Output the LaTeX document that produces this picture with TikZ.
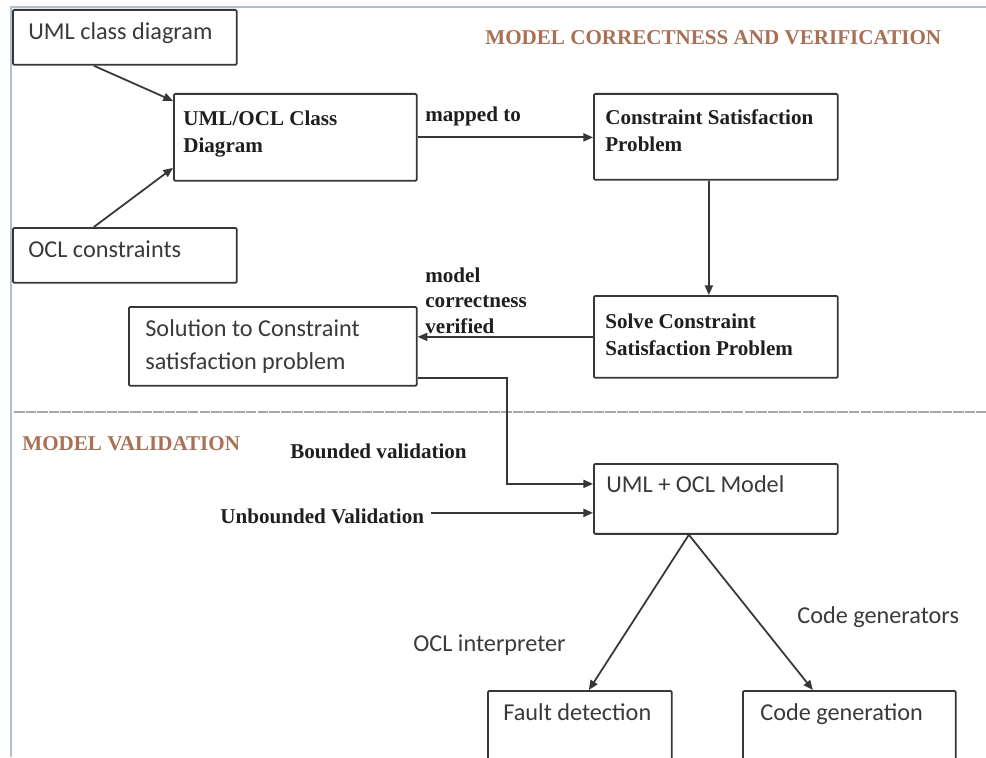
\documentclass[tikz,border=0pt]{standalone}
\usepackage{fontspec}
\setmainfont{Liberation Serif}
\newfontfamily\carlfont{Carlito}
\usetikzlibrary{arrows.meta}
\definecolor{framec}{RGB}{176,192,210}
\definecolor{brownc}{RGB}{168,112,84}
\definecolor{linec}{RGB}{55,55,55}
\definecolor{stext}{RGB}{58,58,58}
\tikzset{
  box/.style={draw=linec, line width=1pt, rounded corners=0.8pt, anchor=north west, inner sep=0pt},
  stxt/.style={anchor=base west, inner sep=0pt, font=\fontsize{12}{15.3}\selectfont\bfseries, text=black!88, align=left},
  ctxt/.style={anchor=base west, inner sep=0pt, font=\carlfont\fontsize{13.8}{18.6}\selectfont, text=stext, align=left},
  ttl/.style={anchor=base west, inner sep=0pt, font=\fontsize{12}{15}\selectfont\bfseries, text=brownc},
  conn/.style={draw=linec, line width=1pt, -{Triangle[length=5.5pt,width=4.6pt]}},
}
\begin{document}
\begin{tikzpicture}[x=0.02cm,y=-0.02cm]
\clip (0,0) rectangle (986,757);
\fill[white] (0,0) rectangle (986,757);
% frame
\draw[framec, line width=1.2pt] (11,757) -- (11,7) -- (986,7);
% divider
\draw[gray!70, line width=1.3pt, dash pattern=on 6pt off 0.6pt] (14,412) -- (986,412);

% boxes
\node[box, minimum width=4.48cm, minimum height=1.10cm] (ucd) at (12,9) {};
\node[box, minimum width=4.48cm, minimum height=1.10cm] (ocl) at (12,227) {};
\node[box, minimum width=4.86cm, minimum height=1.74cm] (uoc) at (173,93) {};
\node[box, minimum width=4.88cm, minimum height=1.72cm] (csp) at (593,93) {};
\node[box, minimum width=4.88cm, minimum height=1.64cm] (scsp) at (593,295) {};
\node[box, minimum width=5.76cm, minimum height=1.58cm] (sol) at (128,306) {};
\node[box, minimum width=4.88cm, minimum height=1.40cm] (uom) at (593,463) {};
\node[box, minimum width=3.68cm, minimum height=1.90cm] (fd) at (487,690) {};
\node[box, minimum width=4.26cm, minimum height=1.90cm] (cg) at (742,690) {};

% box texts (multi-line nodes: base = last line)
\node[ctxt] (ucdt) at (28,40) {UML class diagram};
\node[ctxt] (oclt) at (28,257) {OCL constraints};
\node[stxt] (uoct) at (183,152) {UML/OCL Class\\Diagram};
\node[stxt] (cspt) at (605,151) {Constraint Satisfaction\\Problem};
\node[stxt] (scspt) at (605,355) {Solve Constraint\\Satisfaction Problem};
\node[ctxt] (solt) at (145,369) {Solution to Constraint\\satisfaction problem};
\node[ctxt] (uomt) at (606,492) {UML + OCL Model};
\node[ctxt] (fdt) at (503,720) {Fault detection};
\node[ctxt] (cgt) at (760,720) {Code generation};

% free labels
\node[ttl] (title1) at (485,45) {MODEL CORRECTNESS AND VERIFICATION};
\node[ttl] (title2) at (22,450) {MODEL VALIDATION};
\node[stxt] (mapped) at (425,121) {mapped to};
\node[stxt, font=\fontsize{12}{14.5}\selectfont\bfseries] (mcv) at (425,333) {model\\correctness\\verified};
\node[stxt] (bv) at (290,458) {Bounded validation};
\node[stxt, inner sep=4pt] (ubv) at (213,523) {Unbounded Validation};
\node[ctxt] (oint) at (413,651) {OCL interpreter};
\node[ctxt] (cgen) at (797,623) {Code generators};

% connectors
\draw[conn] ([xshift=-0.62cm]ucd.south) -- ([yshift=0.73cm]uoc.west);
\draw[conn] ([xshift=-0.62cm]ocl.north) -- ([yshift=-0.61cm]uoc.west);
\draw[conn] (uoc.east) -- (uoc.east -| csp.west);
\draw[conn] ([xshift=-0.14cm]csp.south) -- ([xshift=-0.14cm]scsp.north);
\draw[conn] (scsp.west) -- (scsp.west -| sol.east);
\draw[conn] ([yshift=-0.63cm]sol.east) -- ++(1.78cm,0) |- ([yshift=0.30cm]uom.west);
\draw[conn] ([yshift=-0.28cm]uom.west -| ubv.east) -- ([yshift=-0.28cm]uom.west);
\draw[conn] ([xshift=-0.54cm]uom.south) -- ([xshift=0.18cm]fd.north);
\draw[conn] ([xshift=-0.54cm]uom.south) -- ([xshift=-0.73cm]cg.north);
\end{tikzpicture}
\end{document}
